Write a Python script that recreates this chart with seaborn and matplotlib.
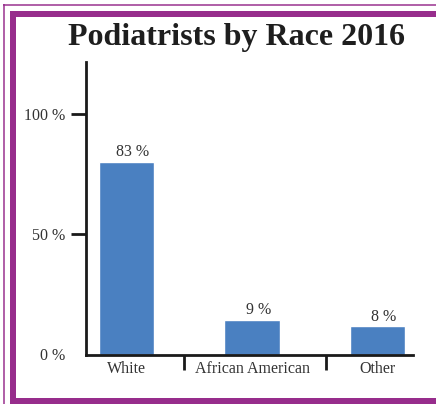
import matplotlib
matplotlib.use("Agg")
import matplotlib.pyplot as plt
from matplotlib.patches import Rectangle
import seaborn as sns

races = ["White", "African American", "Other"]
bar_heights = [80.2, 14.5, 11.7]      # drawn bar heights
bar_labels = ["83 %", "9 %", "8 %"]   # printed values
y_ticks = [0, 50, 100]
y_tick_labels = ["0 %", "50 %", "100 %"]
separators = [0.46, 1.59]

W, H = 436, 404
bar_color = "#4a80c1"
purple = "#972d8c"
text_color = "#333333"

sns.set_style("white")
plt.rcParams["font.family"] = ["Liberation Serif", "DejaVu Serif"]

fig = plt.figure(figsize=(W / 100, H / 100), dpi=100)
fig.patch.set_facecolor("white")

def px(x0, y0, x1, y1):
    # pixel box (top-left origin) -> figure fraction rect
    return (x0 / W, 1 - y1 / H, (x1 - x0) / W, (y1 - y0) / H)

ax = fig.add_axes(px(86, 62, 413, 354.5))

sns.barplot(x=races, y=bar_heights, color=bar_color, width=0.44,
            saturation=1, ax=ax)

ax.set_xlim(-0.32, 2.28)
ax.set_ylim(0, 121.6)

for i, (h, lab) in enumerate(zip(bar_heights, bar_labels)):
    ax.annotate(lab, (i, h), xytext=(4.5, 1), textcoords="offset points",
                ha="center", va="bottom", fontsize=11.5, color=text_color)

sns.despine(ax=ax)
for side in ["left", "bottom"]:
    ax.spines[side].set_linewidth(2.0)
    ax.spines[side].set_color("#1a1a1a")

ax.set_yticks(y_ticks)
ax.set_yticklabels(y_tick_labels, fontsize=11.5, color=text_color)
ax.tick_params(axis="y", length=11, width=2.0, color="#1a1a1a", pad=4, left=True)
ax.yaxis.get_major_ticks()[0].tick1line.set_visible(False)

ax.set_xticks(range(len(races)))
ax.set_xticklabels(races, fontsize=11.5, color=text_color)
ax.tick_params(axis="x", length=0, pad=5)
ax.set_xticks(separators, minor=True)
ax.tick_params(axis="x", which="minor", length=11, width=2.0,
               color="#1a1a1a", bottom=True, direction="out")
ax.set_xlabel("")
ax.set_ylabel("")

fig.text(236.5 / W, 1 - 37 / H, "Podiatrists by Race 2016", ha="center",
         va="center", fontsize=23, fontweight="bold", color="#1e1e1e")

# frame: thin outer line plus a thick inner band
for box in [px(3, 4, W, 6), px(3, 4, 5, H)]:
    fig.add_artist(Rectangle(box[:2], box[2], box[3], transform=fig.transFigure,
                             color=purple, alpha=0.75, lw=0))
for box in [px(10, 11, W, 17), px(10, 11, 16, H), px(10, 398, W, H)]:
    fig.add_artist(Rectangle(box[:2], box[2], box[3], transform=fig.transFigure,
                             color=purple, lw=0))

fig.savefig("out.png", dpi=100)
